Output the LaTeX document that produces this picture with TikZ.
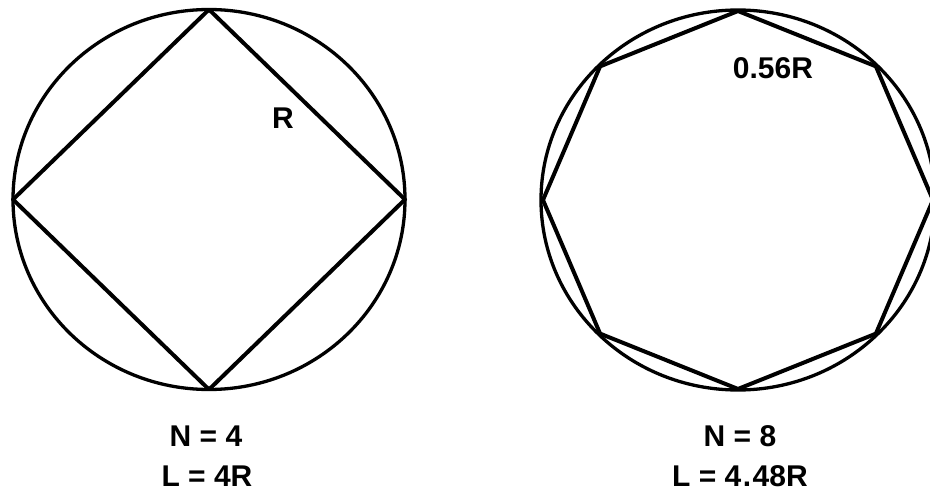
\documentclass[tikz,border=0pt]{standalone}
\usepackage{fontspec}
\setmainfont{Liberation Sans}
\usetikzlibrary{calc}
\begin{document}
\begin{tikzpicture}[x=1pt,y=-1pt,
  circ/.style={line width=3.3pt},
  poly/.style={line width=4pt,line join=round},
  lbl/.style={font=\fontsize{30}{34}\selectfont\bfseries,inner sep=0pt}]
\useasboundingbox (0,0) rectangle (930,495);
\clip (0,0) rectangle (930,495);
% left
\coordinate (lc) at (209,199.5);
\draw[circ] (lc) ellipse [x radius=196, y radius=190];
\foreach \i in {0,1,2,3} {
  \coordinate (s\i) at ($(lc)+({196*cos(90*\i)},{190*sin(90*\i)})$);
}
\draw[poly] (s0) -- (s1) -- (s2) -- (s3) -- cycle;
\node[lbl] (rl) at (283,118) {R};
\node[lbl] (n4) at (206,436) {N = 4};
\node[lbl] (l4) at (207,476) {L = 4R};
% right
\coordinate (rc) at (738,200);
\draw[circ] (rc) ellipse [x radius=197, y radius=190];
\foreach \i in {0,...,7} {
  \coordinate (o\i) at ($(rc)+({195*cos(45*\i)},{189*sin(45*\i)})$);
}
\draw[poly] (o0) -- (o1) -- (o2) -- (o3) -- (o4) -- (o5) -- (o6) -- (o7) -- cycle;
\node[lbl] (r8) at (773,68) {0.56R};
\node[lbl] (n8) at (740,436) {N = 8};
\node[lbl] (l8) at (740,476) {L = 4\kern1.5pt.\kern1.5pt48R};
\end{tikzpicture}
\end{document}
